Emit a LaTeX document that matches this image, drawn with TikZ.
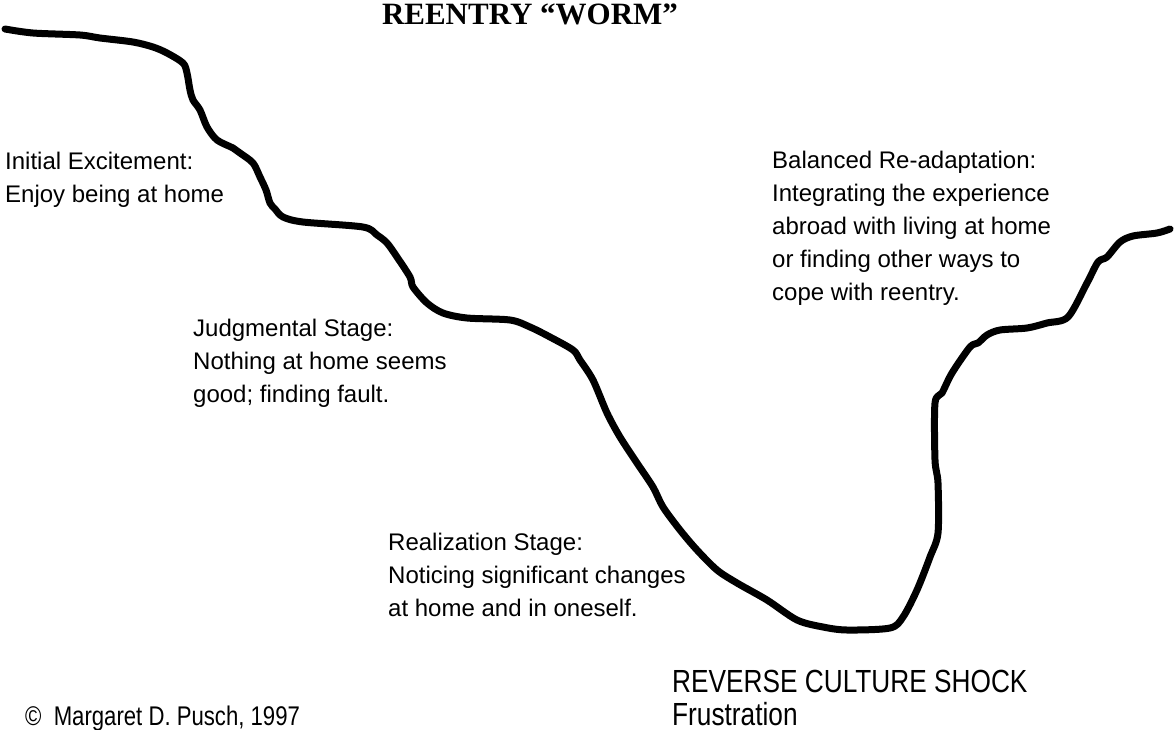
\documentclass[tikz,border=0pt]{standalone}
\usepackage{fontspec}
\setmainfont{Liberation Sans}
\newfontfamily\titlefont{Liberation Serif}
\newfontfamily\narrowfont[FakeStretch=0.82]{Liberation Sans}

\begin{document}
\begin{tikzpicture}[x=1pt, y=-1pt,
  stage/.style={anchor=north west, inner sep=0pt, align=left, font=\fontsize{24}{33}\selectfont},
  shock/.style={anchor=base west, inner sep=0pt, align=left, font=\narrowfont\fontsize{32}{33}\selectfont},
  worm/.style={line width=7pt, line cap=round, line join=round}]
\useasboundingbox (0,0) rectangle (1175,729);

\node[anchor=north, inner sep=0pt, font=\titlefont\bfseries\fontsize{31}{31}\selectfont] (title) at (530,4) {REENTRY “WORM”};

\node[stage] (initial) at (5,152) {Initial Excitement:\\Enjoy being at home};
\node[stage] (judge) at (193,319) {Judgmental Stage:\\Nothing at home seems\\good; finding fault.};
\node[stage] (realize) at (388,533) {Realization Stage:\\Noticing significant changes\\at home and in oneself.};
\node[stage] (balanced) at (772,151) {Balanced Re-adaptation:\\Integrating the experience\\abroad with living at home\\or finding other ways to\\cope with reentry.};
\node[shock] (shockA) at (672,692) {REVERSE CULTURE SHOCK};
\node[shock] (shockB) at (672,725) {Frustration};
\node[shock, font=\narrowfont\fontsize{27}{33}\selectfont] (copy) at (25,725) {©~~Margaret D. Pusch, 1997};

% the worm
\draw[worm] plot[smooth, tension=0.5] coordinates {
  (5,29) (33,33) (80,35) (100,38) (133,42) (153,47) (167,53) (183,63)
  (187,73) (190,90) (193,100) (200,110) (207,127) (217,140) (233,148)
  (240,153) (253,163) (260,177) (266,190) (270,203) (275,209) (283,217)
  (303,222) (363,227) (377,235) (387,243) (397,257) (410,277) (413,287)
  (427,303) (443,313) (467,318) (510,320) (530,327) (550,337) (573,350)
  (580,360) (593,380) (607,413) (620,437) (637,463) (653,487) (663,507)
  (680,530) (697,550) (717,570) (737,583) (767,600) (797,620) (823,627)
  (847,630) (890,628) (903,617) (917,590) (930,557) (938,533) (938,483)
  (935,460) (935,403) (942,393) (952,373) (970,347) (978,343) (987,335)
  (1000,330) (1027,328) (1047,323) (1068,317) (1087,283) (1098,262)
  (1107,257) (1120,242) (1133,236) (1157,233) (1170,229)};

\end{tikzpicture}
\end{document}
